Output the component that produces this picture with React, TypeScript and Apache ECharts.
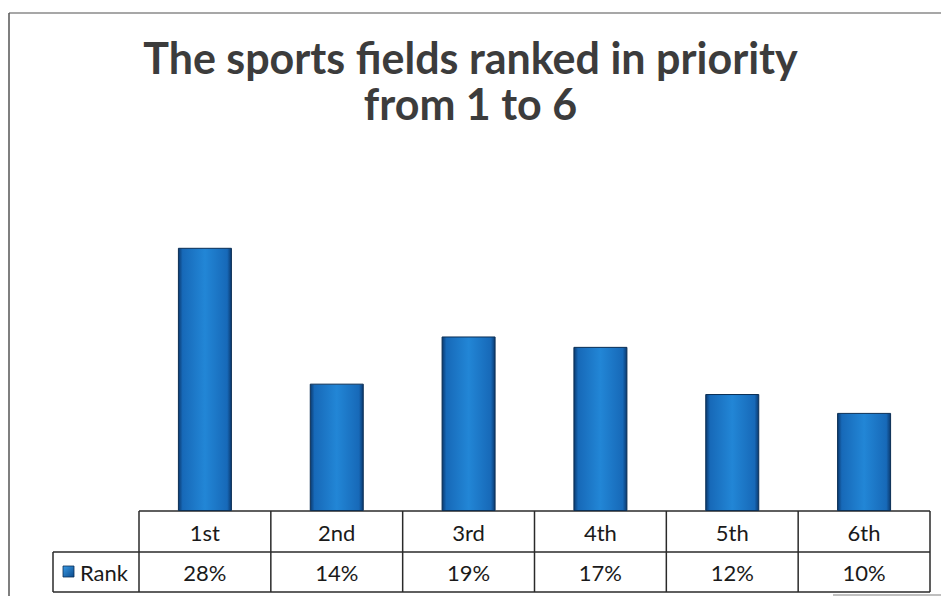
import React, { useEffect, useRef } from "react";
import * as echarts from "echarts";

const categories = ["1st", "2nd", "3rd", "4th", "5th", "6th"];
const rankValues = [27.9, 13.5, 18.5, 17.4, 12.4, 10.4];
const seriesName = "Rank";
const titleText = "The sports fields ranked in priority\nfrom 1 to 6";

const W = 941;
const H = 596;
const TABLE_LEFT = 139;
const TABLE_RIGHT = 930;
const LEGEND_LEFT = 53;
const ROW1_TOP = 511;
const ROW2_TOP = 552;
const ROW2_BOTTOM = 592;

export default function App() {
  const ref = useRef<HTMLDivElement>(null);
  useEffect(() => {
    if (!ref.current) return;
    const chart = echarts.init(ref.current, undefined, { renderer: "svg" });
    const n = categories.length;
    const cellW = (TABLE_RIGHT - TABLE_LEFT) / n;
    const lineStyle = { stroke: "#2a2a2a", lineWidth: 1.5 };
    const graphics: any[] = [];
    // outer frame
    graphics.push({ type: "line", shape: { x1: 9, y1: 13, x2: W, y2: 13 }, style: { stroke: "#8a8a8a", lineWidth: 1.5 } });
    graphics.push({ type: "line", shape: { x1: 9, y1: 13, x2: 9, y2: H }, style: { stroke: "#555", lineWidth: 1.5 } });
    graphics.push({ type: "line", shape: { x1: 833, y1: 595, x2: W, y2: 595 }, style: { stroke: "#aaa", lineWidth: 1.5 } });
    // table horizontal lines
    graphics.push({ type: "line", shape: { x1: TABLE_LEFT, y1: ROW1_TOP, x2: TABLE_RIGHT, y2: ROW1_TOP }, style: lineStyle });
    graphics.push({ type: "line", shape: { x1: LEGEND_LEFT, y1: ROW2_TOP, x2: TABLE_RIGHT, y2: ROW2_TOP }, style: lineStyle });
    graphics.push({ type: "line", shape: { x1: LEGEND_LEFT, y1: ROW2_BOTTOM, x2: TABLE_RIGHT, y2: ROW2_BOTTOM }, style: lineStyle });
    graphics.push({ type: "line", shape: { x1: LEGEND_LEFT, y1: ROW2_TOP, x2: LEGEND_LEFT, y2: ROW2_BOTTOM }, style: lineStyle });
    for (let i = 0; i <= n; i++) {
      const x = TABLE_LEFT + i * cellW;
      graphics.push({ type: "line", shape: { x1: x, y1: ROW1_TOP, x2: x, y2: ROW2_BOTTOM }, style: lineStyle });
    }
    // legend key
    graphics.push({
      type: "rect",
      shape: { x: 63, y: 566, width: 11, height: 11 },
      style: {
        fill: new echarts.graphic.LinearGradient(0, 0, 1, 1, [
          { offset: 0, color: "#3a9be6" },
          { offset: 1, color: "#0b4a8c" },
        ]),
        stroke: "#0b2f55",
        lineWidth: 0.8,
      },
    });
    graphics.push({
      type: "text",
      x: 80,
      y: 572,
      style: { text: seriesName, font: "22px Lato", fill: "#1a1a1a", verticalAlign: "middle", align: "left" },
    });

    const barColor = new echarts.graphic.LinearGradient(0, 0, 1, 0, [
      { offset: 0, color: "#0b3a70" },
      { offset: 0.08, color: "#1769b8" },
      { offset: 0.5, color: "#2286d6" },
      { offset: 0.92, color: "#1769b8" },
      { offset: 1, color: "#0b3a70" },
    ]);

    chart.setOption({
      animation: false,
      title: {
        text: titleText,
        left: "center",
        top: 29,
        textStyle: { fontFamily: "Lato", fontWeight: "bold", fontSize: 43, color: "#3c3c3c", lineHeight: 46 },
      },
      grid: { left: TABLE_LEFT, right: W - TABLE_RIGHT, top: 228, bottom: H - ROW1_TOP },
      xAxis: [
        {
          type: "category",
          data: categories,
          axisLine: { show: false },
          axisTick: { show: false },
          axisLabel: { margin: 21, verticalAlign: "middle", fontFamily: "Lato", fontSize: 22, color: "#1a1a1a" },
        },
        {
          type: "category",
          data: categories,
          position: "bottom",
          axisLine: { show: false },
          axisTick: { show: false },
          axisLabel: {
            margin: 61,
            verticalAlign: "middle",
            fontFamily: "Lato",
            fontSize: 22,
            color: "#1a1a1a",
            formatter: (_v: string, i: number) => Math.round(rankValues[i]) + "%",
          },
        },
      ],
      yAxis: { type: "value", min: 0, max: 30, show: false, splitLine: { show: false } },
      series: [
        {
          name: seriesName,
          type: "bar",
          data: rankValues,
          barWidth: 54,
          itemStyle: { color: barColor, borderColor: "#0b2f55", borderWidth: 1 },
        },
      ],
      graphic: graphics,
    });
    return () => chart.dispose();
  }, []);
  return <div ref={ref} style={{ position: "fixed", left: 0, top: 0, width: W, height: H, background: "#fff" }} />;
}
